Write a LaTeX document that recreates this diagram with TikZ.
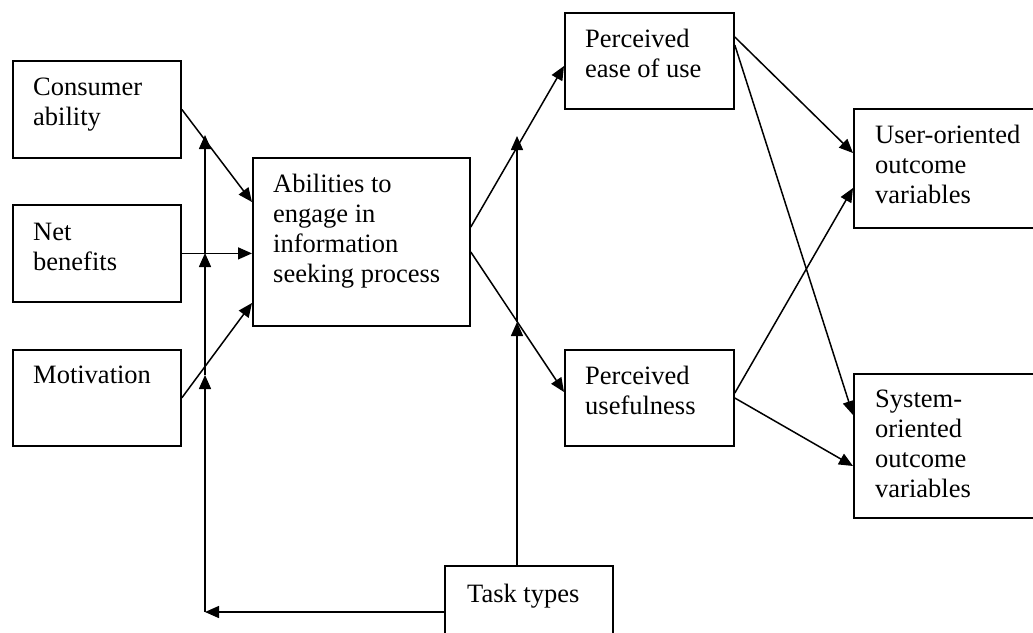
\documentclass[tikz,border=0pt]{standalone}
\usepackage{fontspec}
\setmainfont{Liberation Serif}
\usetikzlibrary{arrows.meta}
\begin{document}
\begin{tikzpicture}[x=1pt,y=-1pt,
  box/.style={draw, line width=1.8pt, inner sep=0pt, anchor=north west},
  lbl/.style={anchor=north west, inner sep=0pt, align=left, font=\fontsize{26.5}{30}\selectfont},
  arr/.style={line width=1.5pt, -{Triangle[length=14pt,width=12pt]}},
  ln/.style={line width=1.5pt}]
\useasboundingbox (0,0) rectangle (1033,632);
\clip (0,0) rectangle (1033,632);
% boxes
\node[box, minimum width=168pt, minimum height=97pt] (ca) at (12,60) {};
\node[box, minimum width=168pt, minimum height=97pt] (nb) at (12,204) {};
\node[box, minimum width=168pt, minimum height=96pt] (mo) at (12,349) {};
\node[box, minimum width=217pt, minimum height=168pt] (ab) at (252,157) {};
\node[box, minimum width=169pt, minimum height=96pt] (pe) at (564,12) {};
\node[box, minimum width=169pt, minimum height=96pt] (pu) at (564,349) {};
\node[box, minimum width=190pt, minimum height=119pt] (uo) at (853,108) {};
\node[box, minimum width=190pt, minimum height=144pt] (so) at (853,373) {};
\node[box, minimum width=168pt, minimum height=90pt] (tt) at (444,565) {};
% labels
\node[lbl] (tca) at ([shift={(21,14)}]ca.north west) {\strut Consumer\\ability};
\node[lbl] (tnb) at ([shift={(21,15)}]nb.north west) {\strut Net\\benefits};
\node[lbl] (tmo) at ([shift={(21,13)}]mo.north west) {\strut Motivation};
\node[lbl] (tab) at ([shift={(21,14)}]ab.north west) {\strut Abilities to\\engage in\\information\\seeking process};
\node[lbl] (tpe) at ([shift={(21,14)}]pe.north west) {\strut Perceived\\ease of use};
\node[lbl] (tpu) at ([shift={(21,14)}]pu.north west) {\strut Perceived\\usefulness};
\node[lbl] (tuo) at ([shift={(22,14)}]uo.north west) {\strut User-oriented\\outcome\\variables};
\node[lbl] (tso) at ([shift={(22,13)}]so.north west) {\strut System-\\oriented\\outcome\\variables};
\node[lbl] (ttt) at ([shift={(23,16)}]tt.north west) {\strut Task types};
% left inputs
\draw[arr] (ca.east) -- ([shift={(0,45)}]ab.north west);
\draw[arr] (nb.east) -- (nb.east -| ab.west);
\draw[arr] (mo.east) -- ([shift={(0,146)}]ab.north west);
% task types feedback to left
\coordinate (c0) at (205,612);
\coordinate (v1) at (205,375);
\coordinate (v2) at (205,253);
\coordinate (v3) at (205,135);
\draw[arr] (c0 -| tt.west) -- (c0);
\draw[arr] (c0) -- (v1);
\draw[arr] (v1) -- (v2);
\draw[arr] (v2) -- (v3);
% task types up
\coordinate (t0) at ([shift={(73,0)}]tt.north west);
\coordinate (w1) at (517,322);
\coordinate (w2) at (517,136);
\draw[arr] (t0) -- (w1);
\draw[arr] (w1) -- (w2);
% abilities to perceptions
\draw[arr] ([shift={(0,70)}]ab.north east) -- ([shift={(0,54)}]pe.north west);
\draw[arr] ([shift={(0,95)}]ab.north east) -- ([shift={(0,43)}]pu.north west);
% perceptions to outcomes
\draw[arr] ([shift={(0,25)}]pe.north east) -- ([shift={(0,45)}]uo.north west);
\draw[arr] ([shift={(0,33)}]pe.north east) -- ([shift={(0,42)}]so.north west);
\draw[arr] ([shift={(0,44)}]pu.north east) -- ([shift={(0,80)}]uo.north west);
\draw[arr] ([shift={(0,49)}]pu.north east) -- ([shift={(0,93)}]so.north west);
\end{tikzpicture}
\end{document}
